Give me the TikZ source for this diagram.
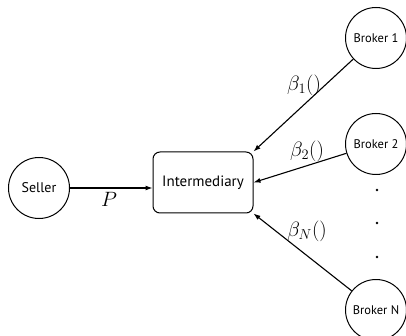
\documentclass[tikz,border=0pt]{standalone}
\usepackage{fontspec}
\newfontfamily\gillfont{PT Sans}
\usetikzlibrary{arrows.meta}
\begin{document}
\begin{tikzpicture}[x=1pt,y=-1pt,
  agent/.style={draw,circle,line width=1pt,minimum size=61pt,inner sep=0pt,font=\gillfont\fontsize{14}{16}\selectfont},
  broker/.style={agent,font=\gillfont\fontsize{12.5}{14}\selectfont},
  midbox/.style={draw,rounded corners=7pt,line width=1pt,minimum width=100pt,minimum height=61pt,inner sep=0pt,font=\gillfont\fontsize{15}{17}\selectfont},
  flow/.style={line width=1.1pt,-{Latex[length=7pt,width=5pt]}},
  lbl/.style={font=\fontsize{21}{24}\selectfont,inner sep=0pt},
  dot/.style={circle,fill,inner sep=0pt,minimum size=2.8pt}]
\useasboundingbox (0,0) rectangle (406,336);
\node[agent] (seller) at (39,188) {Seller};
\node[midbox] (inter) at (203,182.5) {Intermediary};
\node[broker] (b1) at (376,38) {Broker 1};
\node[broker] (b2) at (376,144) {Broker 2};
\node[broker] (bn) at (376,310) {Broker N};
\node[dot] (d1) at (377,190) {};
\node[dot] (d2) at (377,223) {};
\node[dot] (d3) at (377,257) {};
\draw[flow] (seller) -- (inter.west |- seller);
\draw[flow] (b1) -- (inter.north east);
\draw[flow] (b2) -- (inter.east);
\draw[flow] (bn) -- (inter.south east);
\node[lbl] (lp) at (109,199) {$P$};
\node[lbl] (l1) at (304,85) {$\beta_1()$};
\node[lbl] (l2) at (307,151) {$\beta_2()$};
\node[lbl] (ln) at (307,231) {$\beta_N()$};
\end{tikzpicture}
\end{document}
